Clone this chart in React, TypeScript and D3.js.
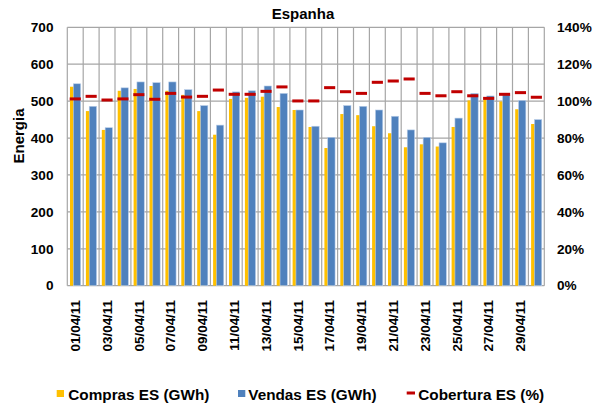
import React from "react";
import * as d3 from "d3";

const categories = Array.from({ length: 30 }, (_, i) => `${String(i + 1).padStart(2, "0")}/04/11`);
const compras = [539, 473, 422, 528, 533, 541, 528, 517, 473, 409, 506, 509, 512, 484, 476, 430, 373, 465, 462, 432, 413, 375, 383, 377, 430, 502, 505, 499, 478, 438];
const vendas = [547, 486, 428, 536, 552, 550, 552, 531, 488, 435, 525, 528, 541, 521, 476, 432, 402, 488, 486, 476, 459, 422, 402, 387, 454, 521, 514, 517, 502, 450];
const cobertura = [101.2, 102.6, 100.6, 101.2, 103.5, 101.0, 104.2, 102.2, 102.6, 106.0, 103.7, 103.7, 105.3, 107.7, 100.1, 100.1, 107.3, 105.1, 104.2, 110.2, 110.9, 112.0, 104.2, 102.9, 105.1, 102.9, 101.5, 103.7, 104.6, 102.1];
const leftTicks = [0, 100, 200, 300, 400, 500, 600, 700];
const rightTicks = [0, 20, 40, 60, 80, 100, 120, 140];
const labelCategories = categories.filter((_, i) => i % 2 === 0);

const W = 604, H = 408;
const plot = { left: 67.3, right: 544.3, top: 27.3, bottom: 285.7 };
const FONT = "'Liberation Sans', Arial, sans-serif";
const YELLOW = "#FFC000", BLUE = "#4F81BD", RED = "#C00000", GRID = "#A6A6A6";

export default function App() {
  const x = d3.scaleBand<string>().domain(categories).range([plot.left, plot.right]).paddingInner(0).paddingOuter(0);
  const yL = d3.scaleLinear().domain([0, 700]).range([plot.bottom, plot.top]);
  const yR = d3.scaleLinear().domain([0, 140]).range([plot.bottom, plot.top]);
  const bw = x.bandwidth();
  const barW = bw * 0.46;

  return (
    <svg width={W} height={H} style={{ position: "absolute", left: 0, top: 0, background: "#fff" }} fontFamily={FONT} fontWeight="bold">
      <rect x={0} y={0} width={W} height={H} fill="#fff" />
      {leftTicks.map((t) => (
        <line key={"h" + t} x1={plot.left} x2={plot.right} y1={yL(t)} y2={yL(t)} stroke={GRID} strokeWidth={1.2} />
      ))}
      {categories.map((c) => (
        <line key={"v" + c} x1={x(c)!} x2={x(c)!} y1={plot.top} y2={plot.bottom} stroke={GRID} strokeWidth={1.2} />
      ))}
      <line x1={plot.right} x2={plot.right} y1={plot.top} y2={plot.bottom} stroke={GRID} strokeWidth={1.2} />
      {categories.map((c, i) => (
        <g key={"b" + c}>
          <rect x={x(c)! + bw * 0.17} y={yL(compras[i])} width={barW} height={yL(0) - yL(compras[i])} fill={YELLOW} />
          <rect x={x(c)! + bw * 0.38} y={yL(vendas[i])} width={barW} height={yL(0) - yL(vendas[i])} fill={BLUE} stroke="#B9CDE8" strokeWidth={0.6} />
        </g>
      ))}
      {categories.map((c, i) => (
        <rect key={"r" + c} x={x(c)! + bw * 0.5 - bw * 0.35} y={yR(cobertura[i]) - 1.5} width={bw * 0.7} height={3} fill={RED} />
      ))}
      <text x={303} y={19} textAnchor="middle" fontSize={15}>Espanha</text>
      {leftTicks.map((t) => (
        <text key={"lt" + t} x={53.5} y={yL(t)} dy="0.35em" textAnchor="end" fontSize={13.6}>{t}</text>
      ))}
      {rightTicks.map((t) => (
        <text key={"rt" + t} x={557} y={yR(t)} dy="0.35em" textAnchor="start" fontSize={13.6}>{t + "%"}</text>
      ))}
      <text transform={`translate(18.5,136) rotate(-90)`} dy="0.35em" textAnchor="middle" fontSize={15}>Energia</text>
      {labelCategories.map((c) => (
        <text key={"xl" + c} transform={`translate(${x(c)! + bw / 2},300) rotate(-90)`} dy="0.35em" textAnchor="end" fontSize={13.4}>{c}</text>
      ))}
      <rect x={56.7} y={390} width={7.3} height={7} fill={YELLOW} />
      <text x={68.3} y={399.5} fontSize={15.3}>Compras ES (GWh)</text>
      <rect x={238} y={390} width={7.3} height={7} fill={BLUE} />
      <text x={248.3} y={399.5} fontSize={15.3}>Vendas ES (GWh)</text>
      <rect x={406.7} y={391.5} width={8.3} height={3} fill={RED} />
      <text x={418.3} y={399.5} fontSize={15.3}>Cobertura ES (%)</text>
    </svg>
  );
}
